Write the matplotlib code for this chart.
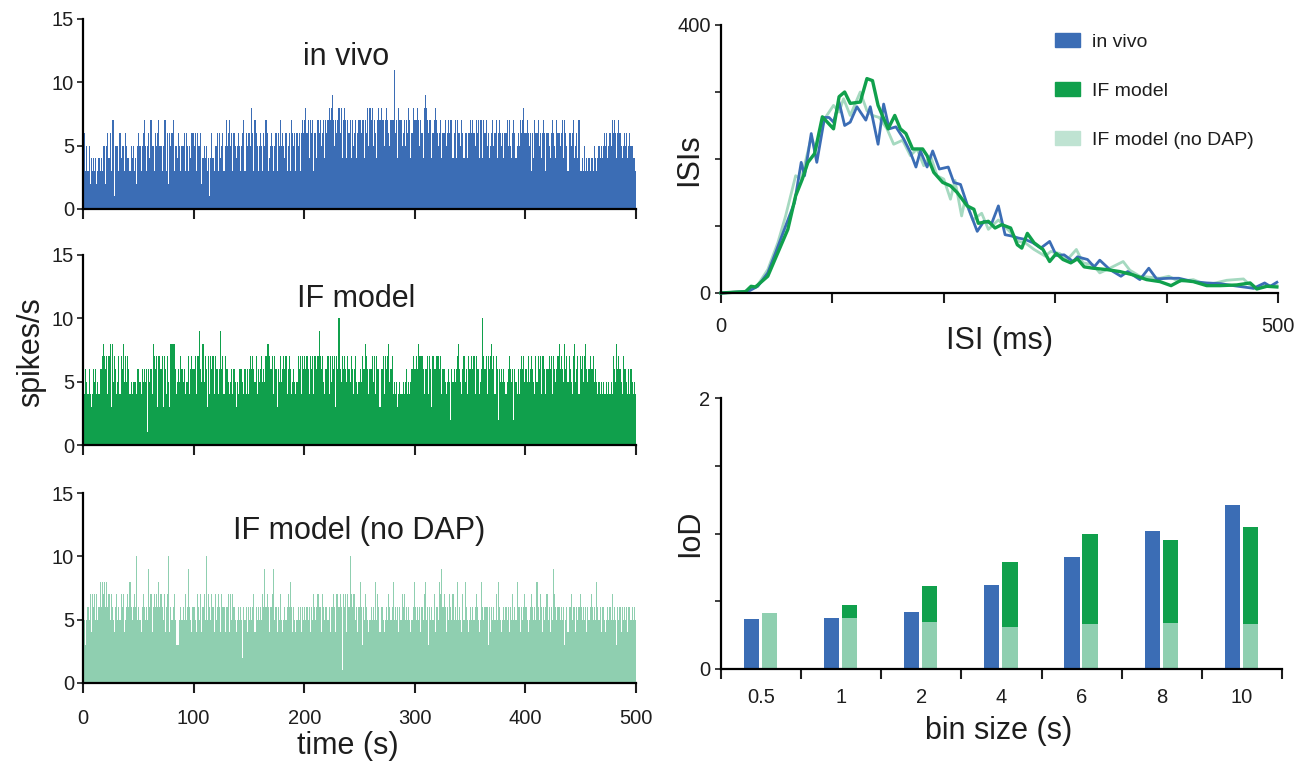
"""
Spike count traces, ISI distributions and index of dispersion
for in vivo data versus the IF model (with and without DAP).
"""

import numpy as np
import matplotlib
matplotlib.use('Agg')
import matplotlib.pyplot as plt
from matplotlib.patches import Patch

plt.rcParams['font.family'] = ['Liberation Sans', 'DejaVu Sans']

# spike counts per 1 s bin, one hex digit per bin (a = 10, b = 11)
spikes_vivo = [
    "5635352434", "3423434355", "2564637715", "5536455365", "4435453425",
    "6535675356", "4755365675", "5357736265", "6735546535", "5636535466",
    "5636556245", "4534146435", "5636456357", "5675636545", "6535673656",
    "6586376535", "6536576345", "6535636575", "6546356376", "5636563676",
    "7867476736", "6476756747", "6787897576", "7868478747", "6747567467",
    "7677476858", "7857647878", "7757876577", "7b67487756", "7576874687",
    "7787576489", "8767746787", "6567466756", "7677467476", "6576466466",
    "7676576747", "7476756456", "7567467656", "4667575467", "6456576786",
    "6765636476", "6756467636", "6546765476", "6567476536", "6567456473",
    "3435343434", "4354345454", "5656456576", "7646765456", "5645655443",
]
spikes_if = [
    "6465464346", "5645466787", "6747838576", "4574768575", "7645455546",
    "6546565616", "5648767377", "6737647538", "8886456576", "5645574676",
    "6747796585", "7637476747", "6646967476", "6545646535", "4666546464",
    "6767657465", "6756578876", "6747636575", "6767467645", "6545767476",
    "7676476747", "7679767546", "6747576737", "6a65767657", "6576467545",
    "6576687646", "6757476636", "6747678567", "4545345445", "4564545676",
    "6768777646", "6747637667", "7767466545", "6526565678", "6546756476",
    "6767476645", "6a76747678", "6747626565", "6545676562", "6546467675",
    "6575676547", "5767477646", "6767476567", "8676586757", "6547856747",
    "6757865676", "6756545454", "5445454547", "6586765476", "6546465454",
]
spikes_nodap = [
    "6535657476", "7575686878", "6867576546", "7565767456", "76865676a5",
    "6546765659", "6746767686", "7657467a46", "5675333565", "6575696546",
    "6547657467", "5a57657647", "5676476646", "6747576545", "6565265646",
    "5656746565", "6576967646", "6795646575", "4565676864", "6545656465",
    "6565646576", "5676647656", "6564667647", "7676176747", "6a76775646",
    "8636576545", "6565857646", "6545657656", "8565646576", "7565654568",
    "6565646578", "5636565746", "6587967646", "5765756585", "6547586545",
    "6565676545", "8656663646", "5657586545", "6565646575", "6586646567",
    "6545676565", "8657646567", "5646597656", "6565635646", "6756646567",
    "6565646567", "6565865646", "6545656575", "6536564656", "5646656565",
]

# ISI histograms (ms, count)
isi_vivo_ms = [0, 10, 24, 33, 42, 49, 58, 66, 72, 75, 81, 86, 93, 97, 101,
               106, 111, 116, 122, 130, 134, 141, 146, 151, 157, 164, 170,
               175, 179, 185, 190, 196, 204, 209, 215, 222, 230, 236, 243,
               249, 255, 261, 267, 273, 280, 287, 295, 301, 308, 316, 320,
               329, 335, 340, 349, 359, 365, 376, 384, 391, 402, 411, 424,
               436, 448, 460, 469, 478, 488, 493, 499]
isi_vivo = [0, 1, 2, 10, 30, 60, 100, 135, 195, 175, 238, 195, 262, 262, 255,
            285, 250, 255, 278, 258, 278, 222, 282, 245, 248, 230, 210, 188,
            212, 188, 212, 185, 188, 165, 162, 127, 92, 107, 104, 130, 87, 85,
            82, 80, 75, 67, 77, 56, 57, 47, 54, 50, 39, 49, 35, 25, 32, 20,
            37, 21, 22, 22, 17, 15, 14, 11, 9, 7, 15, 10, 16]

isi_if_ms = [0, 10, 22, 27, 31, 42, 51, 60, 67, 73, 78, 84, 91, 101, 106,
             111, 116, 125, 131, 136, 141, 150, 156, 161, 166, 172, 181, 185,
             191, 199, 206, 212, 221, 227, 231, 240, 246, 252, 260, 266, 270,
             275, 281, 289, 295, 301, 307, 314, 320, 326, 334, 346, 358, 370,
             382, 394, 404, 413, 424, 436, 448, 463, 475, 481, 490, 499]
isi_if = [0, 1, 2, 10, 9, 25, 60, 95, 145, 170, 195, 208, 263, 245, 293, 300,
          283, 285, 320, 317, 280, 245, 265, 245, 238, 215, 215, 205, 180, 165,
          160, 150, 130, 125, 104, 107, 97, 102, 97, 72, 67, 89, 75, 65, 47,
          59, 50, 45, 51, 39, 37, 35, 32, 27, 20, 17, 11, 19, 17, 11, 11, 12,
          15, 6, 10, 9]

isi_nodap_ms = [0, 10, 24, 33, 42, 51, 58, 67, 72, 81, 85, 93, 101, 106, 110,
                116, 125, 131, 136, 142, 149, 155, 163, 170, 176, 182, 188,
                194, 200, 206, 210, 216, 219, 226, 234, 240, 249, 259, 267,
                273, 281, 291, 296, 304, 311, 319, 325, 334, 340, 349, 361,
                367, 376, 382, 394, 402, 411, 424, 436, 454, 469, 478, 487,
                499]
isi_nodap = [0, 1, 3, 12, 35, 75, 115, 175, 170, 232, 215, 260, 280, 270, 290,
             265, 300, 272, 265, 262, 245, 222, 228, 205, 215, 190, 205, 175,
             170, 140, 168, 115, 139, 109, 119, 95, 109, 92, 77, 75, 65, 55,
             62, 59, 50, 65, 45, 42, 30, 37, 47, 34, 25, 24, 22, 25, 17, 20,
             12, 19, 21, 7, 11, 11]

# index of dispersion per bin size
bin_labels = ['0.5', '1', '2', '4', '6', '8', '10']
iod_vivo = [0.37, 0.38, 0.42, 0.62, 0.83, 1.02, 1.21]
iod_if = [0.40, 0.47, 0.61, 0.79, 1.00, 0.95, 1.05]
iod_nodap = [0.41, 0.375, 0.35, 0.31, 0.33, 0.34, 0.33]

BLUE = '#3b6db5'
GREEN = '#10a04c'
LIGHT = '#8fcfb0'
LIGHT_LINE = '#a5d9c0'
LIGHT_LEGEND = '#bfe3d2'
TXT = '#1e1e1e'

W, H = 1313, 765


def box(left, top, right, bottom):
    # pixel box -> figure fraction rect
    return [left / W, 1 - bottom / H, (right - left) / W, (bottom - top) / H]


def style_axes(ax):
    for side in ['top', 'right']:
        ax.spines[side].set_visible(False)
    for side in ['left', 'bottom']:
        ax.spines[side].set_linewidth(1.6)
        ax.spines[side].set_color('black')
    ax.tick_params(axis='x', length=7.5, width=1.5, labelsize=14.5, pad=10,
                   colors=TXT)
    ax.tick_params(axis='y', length=4.5, width=1.2, labelsize=14.5, pad=2,
                   colors=TXT)


fig = plt.figure(figsize=(13.13, 7.65), dpi=100)

# spike count panels
panels = [
    (spikes_vivo, BLUE, 'in vivo', 238, 11.4, box(83, 19, 636, 209)),
    (spikes_if, GREEN, 'IF model', 247, 10.9, box(83, 255, 636, 445)),
    (spikes_nodap, LIGHT, 'IF model (no DAP)', 250, 11.4,
     box(83, 493, 636, 683)),
]
for i, (rows, color, title, tx, ty, rect) in enumerate(panels):
    ax = fig.add_axes(rect)
    counts = [int(c, 16) for c in ''.join(rows)]
    edges = np.arange(len(counts) + 1)
    ax.stairs(counts, edges, fill=True, color=color, linewidth=0)
    ax.set_xlim(0, 500)
    ax.set_ylim(0, 15)
    ax.set_yticks([0, 5, 10, 15])
    ax.set_xticks(np.arange(0, 501, 100))
    style_axes(ax)
    ax.tick_params(axis='x', pad=11)
    if i < 2:
        ax.tick_params(axis='x', labelbottom=False)
    ax.text(tx, ty, title, ha='center', va='baseline', fontsize=22, color=TXT)

fig.text(31 / W, 1 - 352 / H, 'spikes/s', rotation=90, ha='center',
         va='center', fontsize=22, color=TXT)
fig.text(348 / W, 1 - 746 / H, 'time (s)', ha='center', va='center',
         fontsize=22, color=TXT)

# ISI distributions
ax_isi = fig.add_axes(box(721, 25, 1278, 293))
ax_isi.plot(isi_nodap_ms, isi_nodap, color=LIGHT_LINE, lw=2.0, clip_on=False)
ax_isi.plot(isi_vivo_ms, isi_vivo, color=BLUE, lw=2.0, clip_on=False)
ax_isi.plot(isi_if_ms, isi_if, color=GREEN, lw=2.4, clip_on=False)
ax_isi.set_xlim(0, 500)
ax_isi.set_ylim(0, 400)
ax_isi.set_xticks(np.arange(0, 501, 100))
ax_isi.set_xticklabels(['0', '', '', '', '', '500'])
ax_isi.set_yticks(np.arange(0, 401, 100))
ax_isi.set_yticklabels(['0', '', '', '', '400'])
style_axes(ax_isi)
ax_isi.tick_params(axis='y', pad=3)

handles = [Patch(color=BLUE), Patch(color=GREEN), Patch(color=LIGHT_LEGEND)]
ax_isi.legend(handles, ['in vivo', 'IF model', 'IF model (no DAP)'],
              loc='upper left', bbox_to_anchor=(1055 / W, 1 - 33 / H),
              bbox_transform=fig.transFigure, frameon=False, fontsize=14,
              handlelength=1.3, handleheight=0.75, handletextpad=0.6,
              labelspacing=1.6, borderpad=0, borderaxespad=0,
              labelcolor=TXT)

fig.text(689 / W, 1 - 160 / H, 'ISIs', rotation=90, ha='center', va='center',
         fontsize=22, color=TXT)
fig.text(999 / W, 1 - 341 / H, 'ISI (ms)', ha='center', va='center',
         fontsize=22, color=TXT)

# index of dispersion bars
ax_iod = fig.add_axes(box(721, 398, 1282, 669))
x = np.arange(len(bin_labels))
ax_iod.bar(x - 0.12, iod_vivo, width=0.19, color=BLUE, linewidth=0)
ax_iod.bar(x + 0.105, iod_if, width=0.19, color=GREEN, linewidth=0)
ax_iod.bar(x + 0.105, iod_nodap, width=0.19, color=LIGHT, linewidth=0)
ax_iod.set_xlim(-0.5, len(bin_labels) - 0.5)
ax_iod.set_ylim(0, 2)
ax_iod.set_yticks([0, 0.5, 1, 1.5, 2])
ax_iod.set_yticklabels(['0', '', '', '', '2'])
ax_iod.set_xticks(np.arange(-0.5, len(bin_labels)),
                  labels=[''] * (len(bin_labels) + 1))
ax_iod.set_xticks(x, labels=bin_labels, minor=True)
style_axes(ax_iod)
ax_iod.tick_params(axis='y', pad=3)
ax_iod.tick_params(axis='x', which='minor', length=0, pad=14, labelsize=14.5,
                   colors=TXT)

fig.text(690 / W, 1 - 533 / H, 'IoD', rotation=90, ha='center', va='center',
         fontsize=22, color=TXT)
fig.text(999 / W, 1 - 731 / H, 'bin size (s)', ha='center', va='center',
         fontsize=22, color=TXT)

fig.savefig('out.png', dpi=100)
